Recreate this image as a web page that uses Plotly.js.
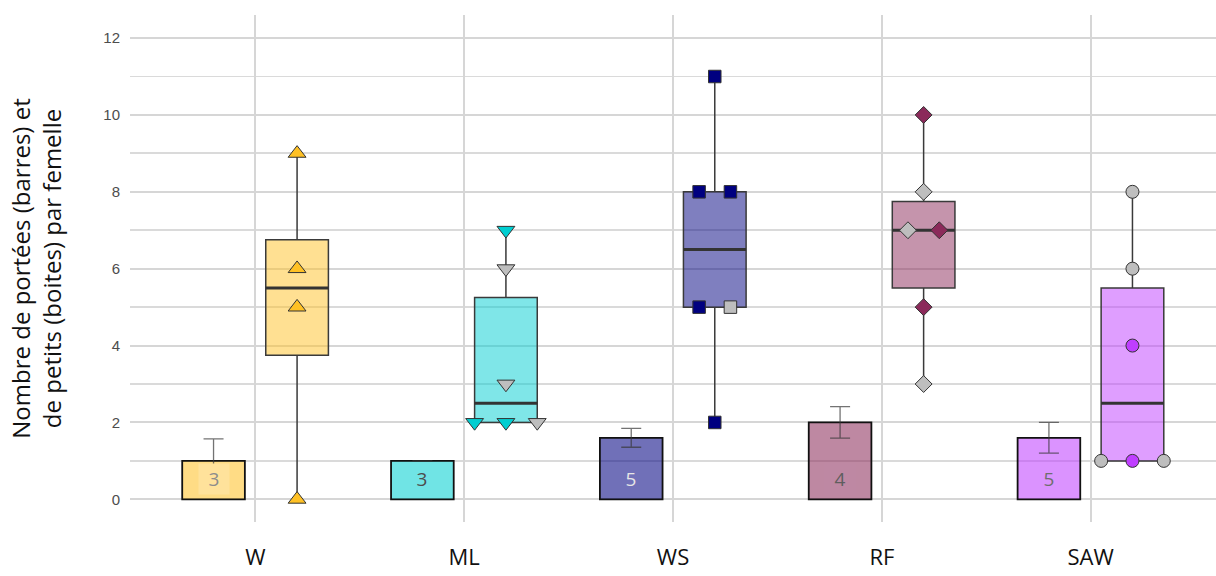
<!DOCTYPE html>
<html>
<head>
<meta charset="utf-8">
<script src="https://cdn.plot.ly/plotly-3.0.1.min.js"></script>
<style>html,body{margin:0;padding:0;background:#fff;}#chart{width:1216px;height:576px;}</style>
</head>
<body>
<div id="chart"></div>
<script>
// ---- data ----
const categories = ['W', 'ML', 'WS', 'RF', 'SAW'];
const litterMeans = [1, 1, 1.6, 2, 1.6];
const litterSE = [0.57, null, 0.245, 0.41, 0.4];
const femaleCounts = [3, 3, 5, 4, 5];

const boxMin = [0, 2, 2, 3, 1];
const boxQ1 = [3.75, 2, 5, 5.5, 1];
const boxMedian = [5.5, 2.5, 6.5, 7, 2.5];
const boxQ3 = [6.75, 5.25, 8, 7.75, 5.5];
const boxMax = [9, 7, 11, 10, 8];

const pointGroup  = [0,0,0,0, 1,1,1,1,1,1, 2,2,2,2,2,2, 3,3,3,3,3,3, 4,4,4,4,4,4];
const pointValue  = [9,6,5,0, 7,6,3,2,2,2, 11,8,8,5,5,2, 10,8,7,7,5,3, 8,6,4,1,1,1];
const pointJitter = [0,0,0,0, 0,0,0,-0.15,0,0.15, 0,-0.075,0.075,-0.075,0.075,0, 0,0,-0.075,0.075,0,0, 0,0,0,-0.15,0,0.15];
const pointGrey   = [0,0,0,0, 0,1,1,0,0,1, 0,0,0,0,1,0, 0,1,1,0,0,1, 1,1,0,1,0,1];

// ---- styles ----
const baseRGB = [[255,193,37],[0,206,209],[0,0,128],[139,42,90],[191,62,255]];
const rgba = (c,a) => `rgba(${c[0]},${c[1]},${c[2]},${a})`;
const mixWhite = (c,a) => `rgb(${c.map(v => Math.round(v*a + 255*(1-a))).join(',')})`;
const symbols = ['triangle-up','triangle-down','square','diamond','circle'];
const symSize = [15.5, 15.5, 12.5, 13, 13];
const labelColors = ['#8c8c8c','#4d4d4d','#e6e6e6','#5e5e5e','#6e6e6e'];
const labelBgAlpha = [0.46, 0.56, 0.56, 0.56, 0.56];
const BAR_OFF = -0.2, BOX_OFF = 0.2, W = 0.3;
const idx = categories.map((_, i) => i);

const traces = [];
// bars
traces.push({
  type: 'bar',
  x: idx.map(i => i + BAR_OFF),
  y: litterMeans,
  width: W,
  marker: {color: baseRGB.map(c => rgba(c, 0.56)), line: {color: '#111', width: 1.8}},
  error_y: {type: 'data', array: litterSE, visible: true, color: 'rgba(55,55,55,0.7)', thickness: 1.3, width: 10},
  hoverinfo: 'skip', showlegend: false
});
// boxes
idx.forEach(i => {
  traces.push({
    type: 'box',
    x: [i + BOX_OFF],
    q1: [boxQ1[i]], median: [boxMedian[i]], q3: [boxQ3[i]],
    lowerfence: [boxMin[i]], upperfence: [boxMax[i]],
    width: W,
    whiskerwidth: 0,
    boxpoints: false,
    fillcolor: rgba(baseRGB[i], 0.5),
    line: {color: '#3a3a3a', width: 1.5},
    hoverinfo: 'skip', showlegend: false
  });
});
// thicker median lines
const mx = [], my = [];
idx.forEach(i => {
  mx.push(i + BOX_OFF - W/2, i + BOX_OFF + W/2, null);
  my.push(boxMedian[i], boxMedian[i], null);
});
traces.push({type: 'scatter', mode: 'lines', x: mx, y: my, line: {color: '#333', width: 3}, hoverinfo: 'skip', showlegend: false});
// points
traces.push({
  type: 'scatter', mode: 'markers',
  x: pointGroup.map((g, k) => g + BOX_OFF + pointJitter[k]),
  y: pointValue,
  marker: {
    symbol: pointGroup.map(g => symbols[g]),
    size: pointGroup.map(g => symSize[g]),
    opacity: 1,
    color: pointGroup.map((g, k) => pointGrey[k] ? '#bebebe' : rgba(baseRGB[g], 1)),
    line: {color: '#333', width: 1}
  },
  hoverinfo: 'skip', showlegend: false
});

const annotations = idx.map(i => ({
  x: i + BAR_OFF, y: 0.54, xref: 'x', yref: 'y',
  text: String(femaleCounts[i]), showarrow: false,
  width: 30, height: 30,
  font: {family: 'Open Sans, sans-serif', size: 19, color: labelColors[i]},
  bgcolor: mixWhite(baseRGB[i], labelBgAlpha[i]), borderpad: 0
}));

const layout = {
  width: 1216, height: 576,
  margin: {l: 130, r: 0, t: 15, b: 54},
  paper_bgcolor: '#fff', plot_bgcolor: '#fff',
  font: {family: 'Open Sans, sans-serif'},
  showlegend: false,
  annotations: annotations,
  xaxis: {
    range: [-0.6, 4.6],
    tickvals: idx, ticktext: categories,
    showgrid: true, gridcolor: '#d6d6d6', gridwidth: 2,
    zeroline: false, showline: false, ticks: '',
    tickfont: {family: 'Open Sans, sans-serif', size: 22, color: '#111'},
    ticklabelstandoff: 20,
    fixedrange: true
  },
  yaxis: {
    range: [-0.59, 12.6],
    dtick: 2, tick0: 0,
    showgrid: true, gridcolor: '#d6d6d6', gridwidth: 2,
    minor: {dtick: 1, showgrid: true, gridcolor: '#dadada', gridwidth: 1.8},
    zeroline: false, showline: false, ticks: '',
    tickfont: {family: 'Liberation Sans, Arial, sans-serif', size: 15, color: '#4d4d4d'},
    ticklabelstandoff: 9,
    title: {text: 'Nombre de portées (barres) et<br>de petits (boites) par femelle', font: {family: 'Open Sans, sans-serif', size: 24, color: '#111'}, standoff: 34},
    fixedrange: true
  }
};

Plotly.newPlot('chart', traces, layout, {displayModeBar: false, staticPlot: true});
</script>
</body>
</html>
